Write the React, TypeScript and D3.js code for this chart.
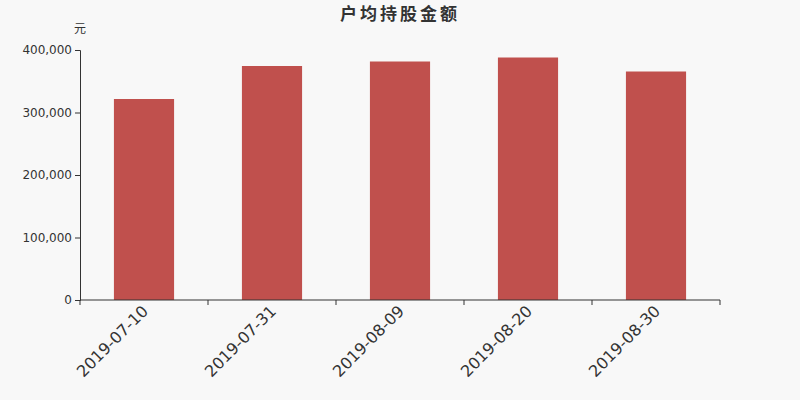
import React, { useEffect, useRef } from "react";
import * as d3 from "d3";

const dates = ["2019-07-10", "2019-07-31", "2019-08-09", "2019-08-20", "2019-08-30"];
const amounts = [321600, 374400, 381600, 388000, 365600];
const yTicks = [0, 100000, 200000, 300000, 400000];

export default function App() {
  const ref = useRef<SVGSVGElement>(null);

  useEffect(() => {
    const svg = d3.select(ref.current);
    svg.selectAll("*").remove();

    const width = 800;
    const height = 400;
    const margin = { top: 50, right: 80, bottom: 100, left: 80 };
    const font = "'DejaVu Sans', 'Noto Sans CJK SC', sans-serif";

    svg
      .attr("width", width)
      .attr("height", height)
      .style("display", "block")
      .style("position", "absolute")
      .style("left", "0px")
      .style("top", "0px");

    svg.append("rect").attr("width", width).attr("height", height).attr("fill", "#f8f8f8");

    const x = d3
      .scaleBand()
      .domain(dates)
      .range([margin.left, width - margin.right])
      .paddingInner(0.53)
      .paddingOuter(0.265);

    const y = d3
      .scaleLinear()
      .domain([0, 400000])
      .range([height - margin.bottom, margin.top]);

    svg
      .append("text")
      .attr("x", width / 2)
      .attr("y", 20)
      .attr("text-anchor", "middle")
      .attr("font-family", font)
      .attr("font-size", 17)
      .attr("letter-spacing", 3)
      .attr("font-weight", "bold")
      .attr("fill", "#333")
      .text("户均持股金额");

    svg
      .append("text")
      .attr("x", margin.left)
      .attr("y", 33)
      .attr("text-anchor", "middle")
      .attr("font-family", font)
      .attr("font-size", 12)
      .attr("fill", "#333")
      .text("元");

    svg
      .append("g")
      .selectAll("rect")
      .data(dates)
      .enter()
      .append("rect")
      .attr("x", (d) => x(d)!)
      .attr("width", x.bandwidth())
      .attr("y", (d, i) => y(amounts[i]))
      .attr("height", (d, i) => y(0) - y(amounts[i]))
      .attr("fill", "#c0504d");

    const yAxis = svg
      .append("g")
      .attr("transform", `translate(${margin.left},0)`)
      .call(
        d3
          .axisLeft(y)
          .tickValues(yTicks)
          .tickSize(5)
          .tickPadding(3)
          .tickFormat((d) => d3.format(",")(d as number))
      );
    yAxis.select(".domain").attr("stroke", "#333");
    yAxis.selectAll(".tick line").attr("stroke", "#333");
    yAxis
      .selectAll("text")
      .attr("font-family", font)
      .attr("font-size", 12)
      .attr("fill", "#333");

    const step = x.step();
    const xAxis = svg.append("g").attr("transform", `translate(0,${y(0)})`);
    xAxis
      .append("line")
      .attr("x1", margin.left)
      .attr("x2", width - margin.right)
      .attr("stroke", "#333");
    xAxis
      .selectAll("line.tk")
      .data(d3.range(dates.length + 1))
      .enter()
      .append("line")
      .attr("class", "tk")
      .attr("x1", (i) => margin.left + i * step)
      .attr("x2", (i) => margin.left + i * step)
      .attr("y1", 0)
      .attr("y2", 5)
      .attr("stroke", "#333");
    xAxis
      .selectAll("text")
      .data(dates)
      .enter()
      .append("text")
      .attr(
        "transform",
        (d) => `translate(${x(d)! + x.bandwidth() / 2 + 2},${9}) rotate(-45)`
      )
      .attr("text-anchor", "end")
      .attr("dominant-baseline", "middle")
      .attr("font-family", font)
      .attr("font-size", 16)
      .attr("fill", "#333")
      .text((d) => d);
  }, []);

  return <svg ref={ref} />;
}
